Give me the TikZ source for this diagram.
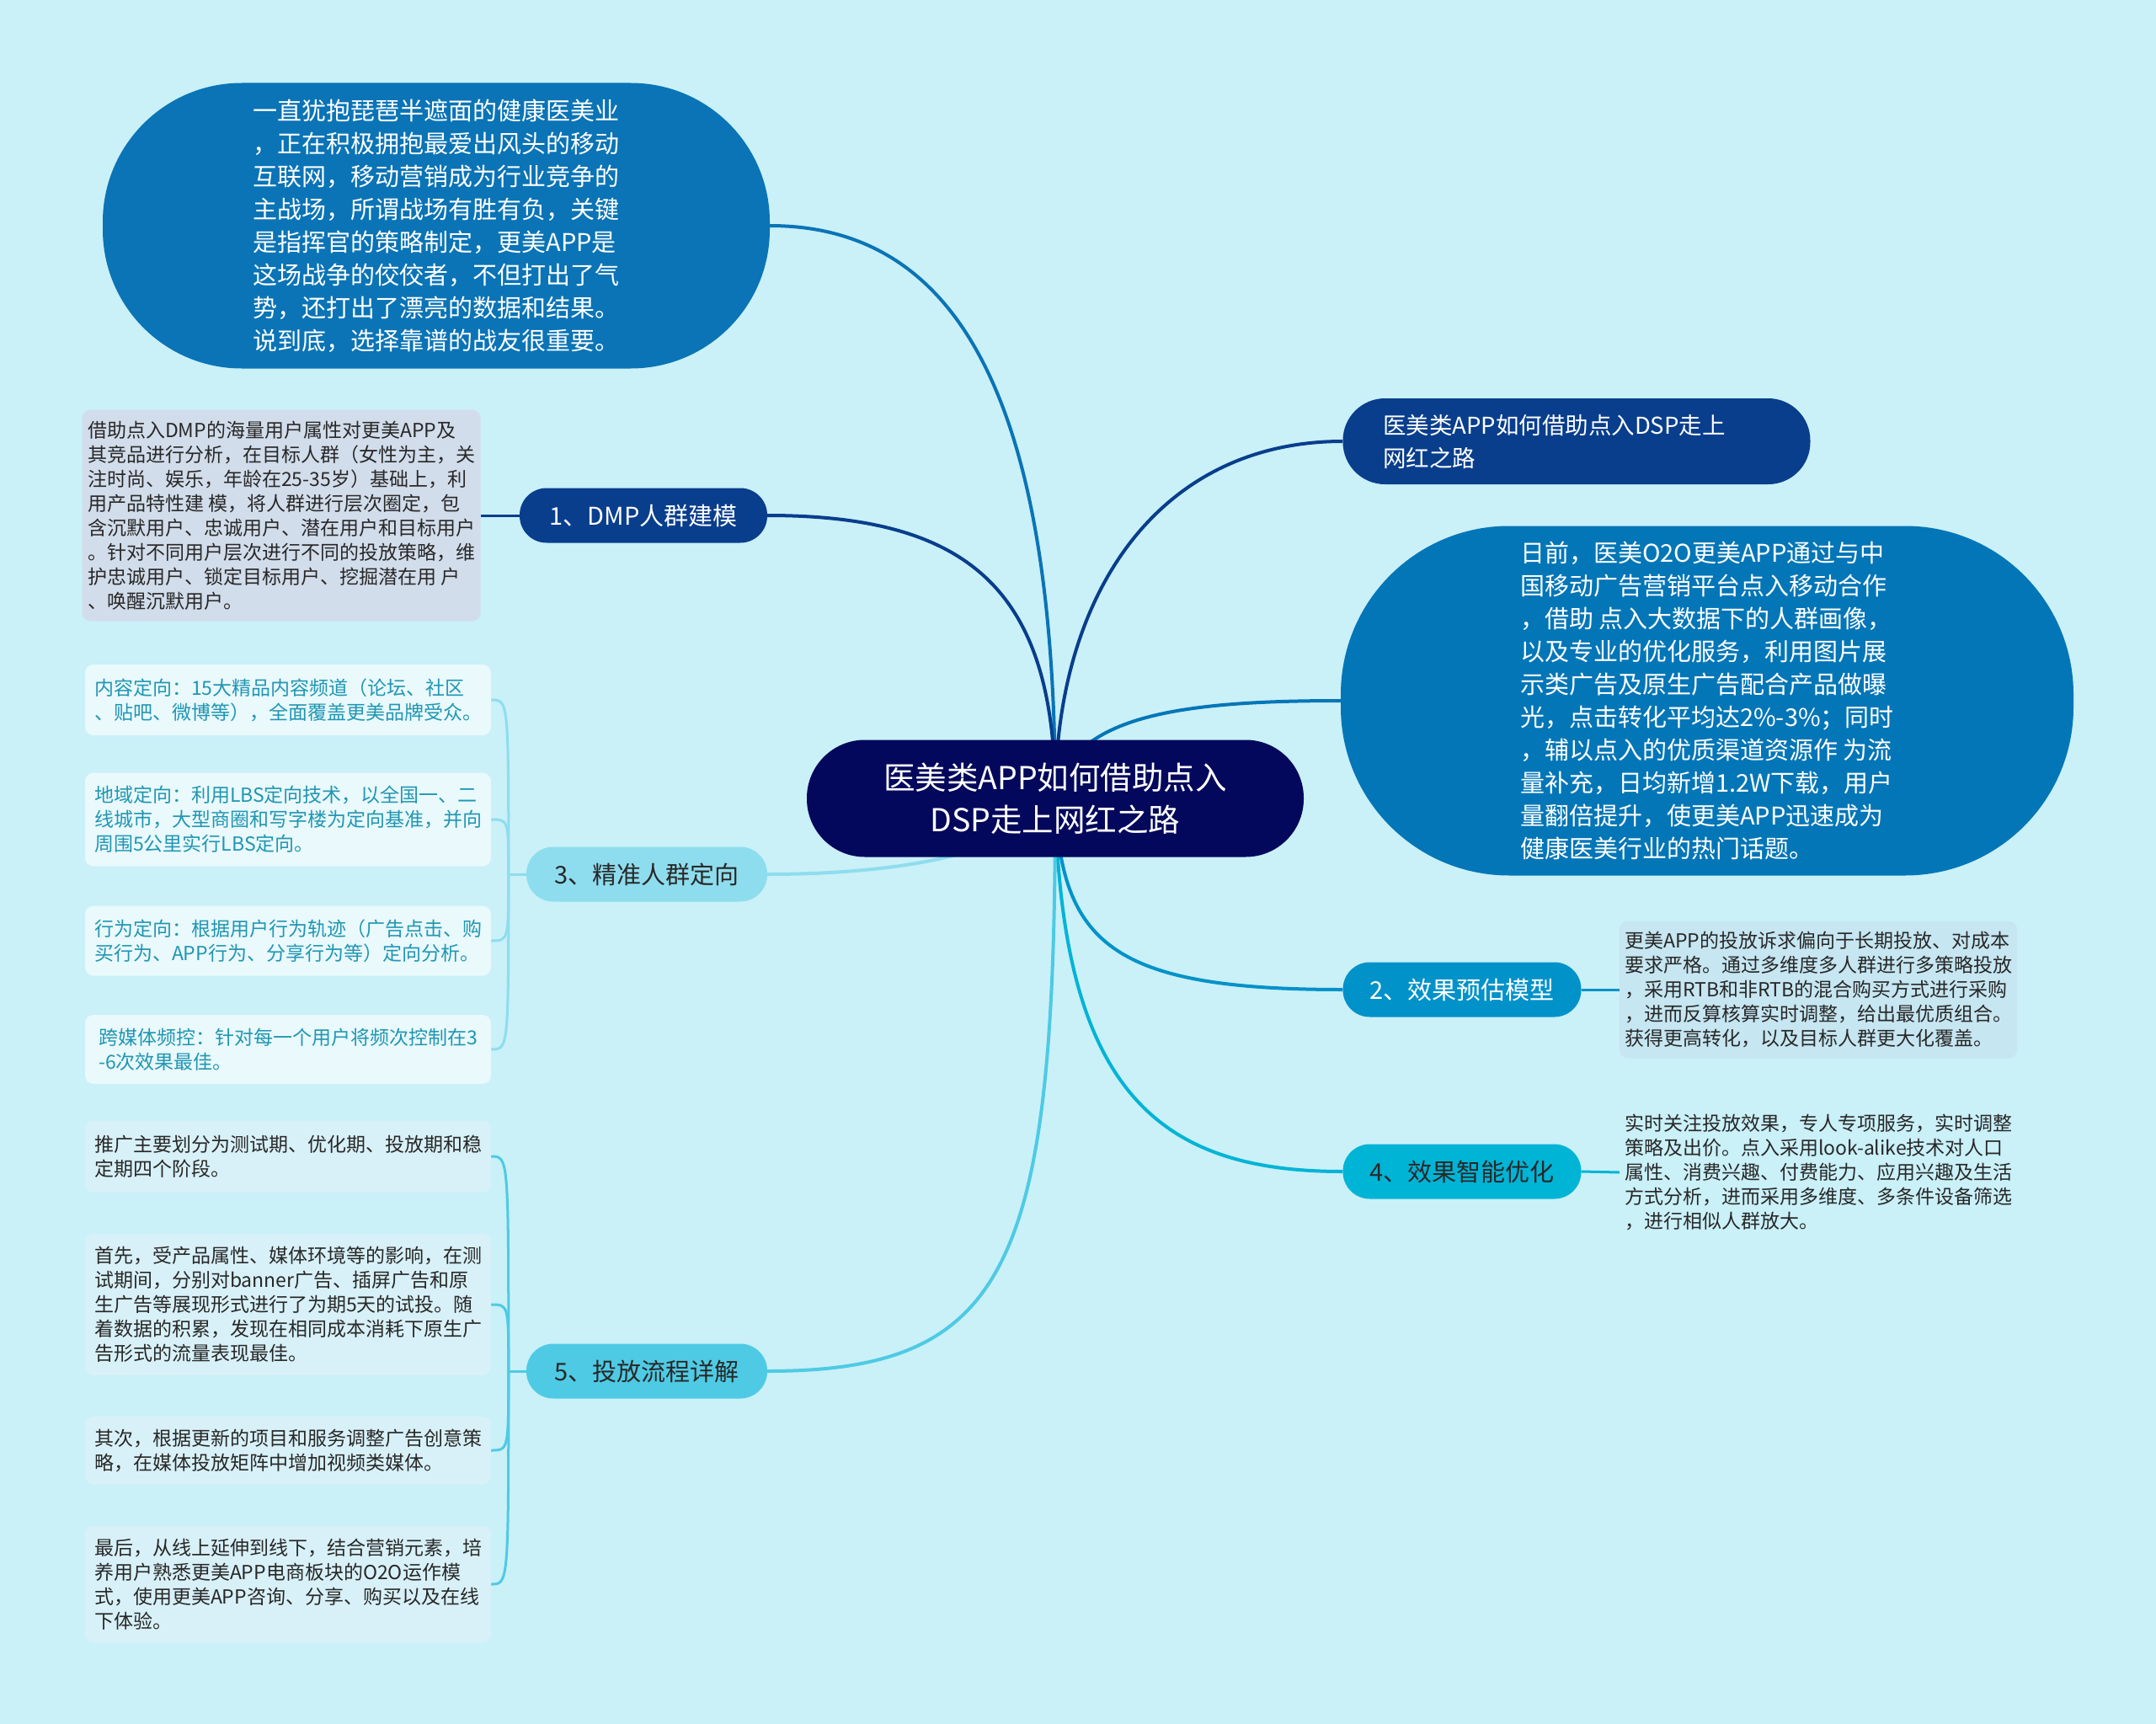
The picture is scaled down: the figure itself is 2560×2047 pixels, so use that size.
\documentclass[tikz,border=0pt]{standalone}
\usepackage{fontspec}
\setmainfont{Noto Sans CJK SC}
\usetikzlibrary{backgrounds}
\definecolor{bgcol}{RGB}{202,240,248}
\definecolor{rootcol}{RGB}{3,8,92}
\definecolor{introcol}{RGB}{10,116,182}
\definecolor{titlecol}{RGB}{8,62,140}
\definecolor{sumcol}{RGB}{3,118,183}
\definecolor{twocol}{RGB}{0,146,200}
\definecolor{threecol}{RGB}{142,221,238}
\definecolor{fourcol}{RGB}{0,180,214}
\definecolor{fivecol}{RGB}{78,202,228}
\definecolor{leafgray}{RGB}{210,221,235}
\definecolor{leafblue}{RGB}{198,230,241}
\definecolor{leafwhite}{RGB}{233,249,252}
\definecolor{leafpale}{RGB}{216,241,248}
\definecolor{inkdark}{RGB}{40,40,40}
\definecolor{inkteal}{RGB}{33,150,178}

\begin{document}
\begin{tikzpicture}[x=1pt,y=-1pt,
  root/.style={fill=rootcol,text=white,rounded corners=69pt,minimum width=590pt,minimum height=139pt,align=center,font=\fontsize{37.5}{50}\selectfont},
  bubble/.style={text=white,align=left,font=\fontsize{29}{39}\selectfont},
  branch/.style={rounded corners=32pt,minimum width=286pt,minimum height=65pt,font=\fontsize{29}{34}\selectfont},
  leaf/.style={rounded corners=10pt,minimum width=482pt,align=left,text=inkdark,font=\fontsize{23}{29}\selectfont},
  link/.style={line width=4pt},
  twig/.style={line width=3pt}]
\useasboundingbox (0,0) rectangle (2560,2047);
\begin{scope}[on background layer]
\fill[bgcol] (0,0) rectangle (2560,2047);
\end{scope}

\node[root] (root) at (1253,948) {医美类APP如何借助点入\\DSP走上网红之路};

\node[bubble,fill=introcol,rounded corners=165pt,minimum width=792pt,minimum height=339pt] (intro) at (518,268)
  {一直犹抱琵琶半遮面的健康医美业\\，正在积极拥抱最爱出风头的移动\\互联网，移动营销成为行业竞争的\\主战场，所谓战场有胜有负，关键\\是指挥官的策略制定，更美APP是\\这场战争的佼佼者，不但打出了气\\势，还打出了漂亮的数据和结果。\\说到底，选择靠谱的战友很重要。};
\node[bubble,fill=titlecol,rounded corners=50pt,minimum width=555pt,minimum height=102pt,text width=460pt,font=\fontsize{27.5}{39}\selectfont] (title) at (1872,524)
  {医美类APP如何借助点入DSP走上\\网红之路};
\node[bubble,fill=sumcol,rounded corners=200pt,minimum width=870pt,minimum height=415pt] (summary) at (2027,832)
  {日前，医美O2O更美APP通过与中\\国移动广告营销平台点入移动合作\\，借助 点入大数据下的人群画像，\\以及专业的优化服务，利用图片展\\示类广告及原生广告配合产品做曝\\光，点击转化平均达2\%-3\%；同时\\，辅以点入的优质渠道资源作 为流\\量补充，日均新增1.2W下载，用户\\量翻倍提升，使更美APP迅速成为\\健康医美行业的热门话题。};

\node[branch,fill=titlecol,text=white,minimum width=294pt] (dmp) at (764,612) {1、DMP人群建模};
\node[branch,fill=twocol,text=white,minimum width=283pt] (estimate) at (1736,1175) {2、效果预估模型};
\node[branch,fill=threecol,text=inkdark] (target) at (768,1038) {3、精准人群定向};
\node[branch,fill=fourcol,text=inkdark,minimum width=283pt] (optimize) at (1736,1391) {4、效果智能优化};
\node[branch,fill=fivecol,text=inkdark] (process) at (768,1628) {5、投放流程详解};

\node[leaf,fill=leafgray,minimum width=473pt,minimum height=251pt] (dmpleaf) at (334,612)
  {借助点入DMP的海量用户属性对更美APP及\\其竞品进行分析，在目标人群（女性为主，关\\注时尚、娱乐，年龄在25-35岁）基础上，利\\用产品特性建 模，将人群进行层次圈定，包\\含沉默用户、忠诚用户、潜在用户和目标用户\\。针对不同用户层次进行不同的投放策略，维\\护忠诚用户、锁定目标用户、挖掘潜在用 户\\、唤醒沉默用户。};
\node[leaf,fill=leafblue,minimum width=472pt,minimum height=163pt] (estleaf) at (2159,1175)
  {更美APP的投放诉求偏向于长期投放、对成本\\要求严格。通过多维度多人群进行多策略投放\\，采用RTB和非RTB的混合购买方式进行采购\\，进而反算核算实时调整，给出最优质组合。\\获得更高转化，以及目标人群更大化覆盖。};
\node[leaf,minimum width=472pt,minimum height=156pt] (optleaf) at (2159,1392)
  {实时关注投放效果，专人专项服务，实时调整\\策略及出价。点入采用look-alike技术对人口\\属性、消费兴趣、付费能力、应用兴趣及生活\\方式分析，进而采用多维度、多条件设备筛选\\，进行相似人群放大。};

\node[leaf,fill=leafwhite,text=inkteal,minimum height=84pt] (content) at (342,831)
  {内容定向：15大精品内容频道（论坛、社区\\、贴吧、微博等），全面覆盖更美品牌受众。};
\node[leaf,fill=leafwhite,text=inkteal,minimum height=111pt] (region) at (342,973)
  {地域定向：利用LBS定向技术，以全国一、二\\线城市，大型商圈和写字楼为定向基准，并向\\周围5公里实行LBS定向。};
\node[leaf,fill=leafwhite,text=inkteal,minimum height=83pt] (behavior) at (342,1117)
  {行为定向：根据用户行为轨迹（广告点击、购\\买行为、APP行为、分享行为等）定向分析。};
\node[leaf,fill=leafwhite,text=inkteal,minimum height=82pt] (frequency) at (342,1246)
  {跨媒体频控：针对每一个用户将频次控制在3\\-6次效果最佳。};

\node[leaf,fill=leafpale,minimum height=85pt] (stages) at (342,1373)
  {推广主要划分为测试期、优化期、投放期和稳\\定期四个阶段。};
\node[leaf,fill=leafpale,minimum height=168pt] (trial) at (342,1549)
  {首先，受产品属性、媒体环境等的影响，在测\\试期间，分别对banner广告、插屏广告和原\\生广告等展现形式进行了为期5天的试投。随\\着数据的积累，发现在相同成本消耗下原生广\\告形式的流量表现最佳。};
\node[leaf,fill=leafpale,minimum height=81pt] (creative) at (342,1722)
  {其次，根据更新的项目和服务调整广告创意策\\略，在媒体投放矩阵中增加视频类媒体。};
\node[leaf,fill=leafpale,minimum height=139pt] (offline) at (342,1881)
  {最后，从线上延伸到线下，结合营销元素，培\\养用户熟悉更美APP电商板块的O2O运作模\\式，使用更美APP咨询、分享、购买以及在线\\下体验。};

\coordinate (fork3) at ([xshift=-21pt]target.west);
\coordinate (fork5) at ([xshift=-21pt]process.west);

\begin{scope}[on background layer]
\draw[link,introcol] (root.center) .. controls +(0,-448) and +(236,0) .. (intro.east);
\draw[link,titlecol] (root.center) .. controls +(0,-248) and +(239,0) .. (dmp.east);
\draw[link,titlecol] (root.center) .. controls +(0,-248) and +(-215,0) .. (title.west);
\draw[link,sumcol] (root.center) .. controls +(16,-98) and +(-192,0) .. (summary.west);
\draw[link,threecol] (root.center) .. controls +(-54,82) and +(89,0) .. (target.east);
\draw[link,twocol] (root.center) .. controls +(6,172) and +(-275,0) .. (estimate.west);
\draw[link,fourcol] (root.center) .. controls +(6,352) and +(-215,0) .. (optimize.west);
\draw[link,fivecol] (root.center) .. controls +(0,552) and +(289,0) .. (process.east);
\draw[twig,titlecol] (dmp.west) -- (dmpleaf.east);
\draw[twig,twocol] (estimate.east) -- (estleaf.west);
\draw[twig,fourcol] (optimize.east) -- (optleaf.west);
\draw[twig,threecol] (target.west) -- (fork3);
\foreach \leafname in {content,region,behavior,frequency}
  \draw[twig,threecol] (fork3) .. controls (fork3 |- \leafname.east) .. (\leafname.east);
\draw[twig,fivecol] (process.west) -- (fork5);
\foreach \leafname in {stages,trial,creative,offline}
  \draw[twig,fivecol] (fork5) .. controls (fork5 |- \leafname.east) .. (\leafname.east);
\end{scope}
\end{tikzpicture}
\end{document}
